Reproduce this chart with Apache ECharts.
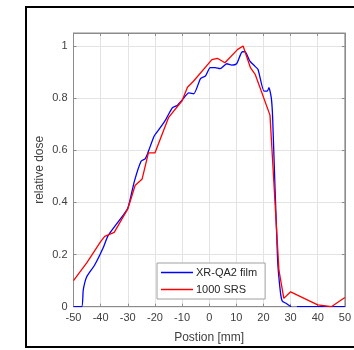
<!DOCTYPE html>
<html>
<head>
<meta charset="utf-8">
<script src="https://cdn.jsdelivr.net/npm/echarts@6/dist/echarts.min.js"></script>
<style>
  html, body { margin: 0; padding: 0; background: #fff; }
  #chart { width: 354px; height: 350px; }
</style>
</head>
<body>
<div id="chart"></div>
<script>
// film profile, [position mm, relative dose]; '-' marks the gap in the scan
const filmData = [
  [-50, 0], [-47, 0], [-46.4, 0.064], [-45.2, 0.113], [-42.2, 0.16], [-39.1, 0.225],
  [-37.3, 0.272], [-33, 0.333], [-30, 0.378], [-27.6, 0.48], [-25.1, 0.558],
  [-23.6, 0.567], [-22.4, 0.596], [-20.3, 0.654], [-18.5, 0.68], [-16, 0.718],
  [-13.6, 0.763], [-11.8, 0.772], [-10, 0.792], [-7.5, 0.82], [-5.7, 0.817],
  [-3.2, 0.875], [-1.4, 0.885], [0.4, 0.917], [2.2, 0.917], [4, 0.913],
  [6.5, 0.932], [8.3, 0.927], [10.1, 0.932], [12.2, 0.978], [13.2, 0.978],
  [15, 0.942], [16.8, 0.923], [18, 0.91], [20.2, 0.827], [21.4, 0.827],
  [22, 0.84], [22.9, 0.8], [23.4, 0.72], [25.2, 0.18], [26.2, 0.06],
  [26.9, 0.022], [28.3, 0.013], [30.2, 0], [31, '-'], [32.3, 0], [50, 0]
];
// detector array profile
const srsData = [
  [-50, 0.1], [-45, 0.17], [-40, 0.25], [-38.5, 0.27], [-35, 0.285], [-30, 0.375],
  [-27.3, 0.465], [-24.7, 0.49], [-22.4, 0.59], [-20, 0.59], [-15, 0.725],
  [-10, 0.79], [-8, 0.842], [-5.8, 0.865], [1, 0.948], [3, 0.953], [5.8, 0.936],
  [10.5, 0.987], [12.5, 1.0], [15.2, 0.917], [17, 0.89], [22.4, 0.735],
  [25.7, 0.14], [27.5, 0.032], [30, 0.057], [40, 0.007], [45, 0], [50, 0.035]
];
const xTicks = [-50, -40, -30, -20, -10, 0, 10, 20, 30, 40, 50];
const yTicks = [0, 0.2, 0.4, 0.6, 0.8, 1];

const chart = echarts.init(document.getElementById("chart"), null, { renderer: "canvas" });

const axisCol = "#8c8c8c";
const textCol = "#404040";
const font = "Liberation Sans, Arial, sans-serif";

const yLabel = (v) => {
  const hit = yTicks.find((t) => Math.abs(t - v) < 1e-6);
  return hit === undefined ? "" : String(hit);
};

const option = {
  backgroundColor: "#fff",
  animation: false,
  textStyle: { fontFamily: font },
  graphic: [
    {
      type: "rect",
      shape: { x: 26, y: 7, width: 340, height: 340 },
      style: { fill: "none", stroke: "#000", lineWidth: 2 },
      z: 100,
    },
  ],
  grid: {
    left: 73.5,
    top: 33,
    width: 274.2,
    height: 273.7,
    show: true,
    borderColor: axisCol,
    borderWidth: 1,
  },
  legend: {
    orient: "vertical",
    left: 157,
    top: 263,
    icon: "rect",
    itemWidth: 32,
    itemHeight: 1.5,
    itemGap: 6,
    padding: [4, 8, 4, 4],
    backgroundColor: "#fff",
    borderColor: "#a0a0a0",
    borderWidth: 1,
    borderRadius: 0,
    textStyle: { color: "#262626", fontSize: 11, fontFamily: font, lineHeight: 10, padding: [0, 0, 0, -2] },
    data: ["XR-QA2 film", "1000 SRS"],
  },
  xAxis: [
    {
      type: "value",
      min: -50,
      max: 50,
      interval: 10,
      name: "Postion [mm]",
      nameLocation: "middle",
      nameGap: 25,
      nameMoveOverlap: false,
      nameTextStyle: { color: textCol, fontSize: 12, fontFamily: font, verticalAlign: "top" },
      axisLine: { show: true, onZero: false, lineStyle: { color: axisCol } },
      axisTick: { show: true, inside: true, length: 3, lineStyle: { color: axisCol } },
      axisLabel: {
        color: textCol,
        fontSize: 11,
        margin: 6,
        formatter: (v) => (xTicks.includes(v) ? String(v) : ""),
      },
      splitLine: { show: true, lineStyle: { color: "#e3e3e3", width: 1 } },
    },
    {
      type: "value",
      position: "top",
      min: -50,
      max: 50,
      interval: 10,
      axisLine: { show: true, onZero: false, lineStyle: { color: axisCol } },
      axisTick: { show: true, inside: true, length: 3, lineStyle: { color: axisCol } },
      axisLabel: { show: false },
      splitLine: { show: false },
    },
  ],
  yAxis: [
    {
      type: "value",
      min: 0,
      max: 1.05,
      interval: 0.2,
      name: "relative dose",
      nameLocation: "middle",
      nameGap: 28,
      nameMoveOverlap: false,
      nameTextStyle: { color: textCol, fontSize: 12, fontFamily: font },
      axisLine: { show: true, onZero: false, lineStyle: { color: axisCol } },
      axisTick: { show: true, inside: true, length: 3, lineStyle: { color: axisCol } },
      axisLabel: { color: textCol, fontSize: 11, margin: 6, formatter: yLabel },
      splitLine: { show: true, lineStyle: { color: "#e3e3e3", width: 1 } },
    },
    {
      type: "value",
      position: "right",
      min: 0,
      max: 1.05,
      interval: 0.2,
      axisLine: { show: true, onZero: false, lineStyle: { color: axisCol } },
      axisTick: { show: true, inside: true, length: 3, lineStyle: { color: axisCol } },
      axisLabel: { show: false },
      splitLine: { show: false },
    },
  ],
  series: [
    {
      name: "XR-QA2 film",
      type: "line",
      data: filmData,
      symbol: "none",
      smooth: 0.2,
      connectNulls: false,
      lineStyle: { color: "#0000ff", width: 1.3 },
      itemStyle: { color: "#0000ff" },
      z: 3,
    },
    {
      name: "1000 SRS",
      type: "line",
      data: srsData,
      symbol: "none",
      lineStyle: { color: "#ff0000", width: 1.3 },
      itemStyle: { color: "#ff0000" },
      z: 4,
    },
  ],
};

chart.setOption(option);
</script>
</body>
</html>
